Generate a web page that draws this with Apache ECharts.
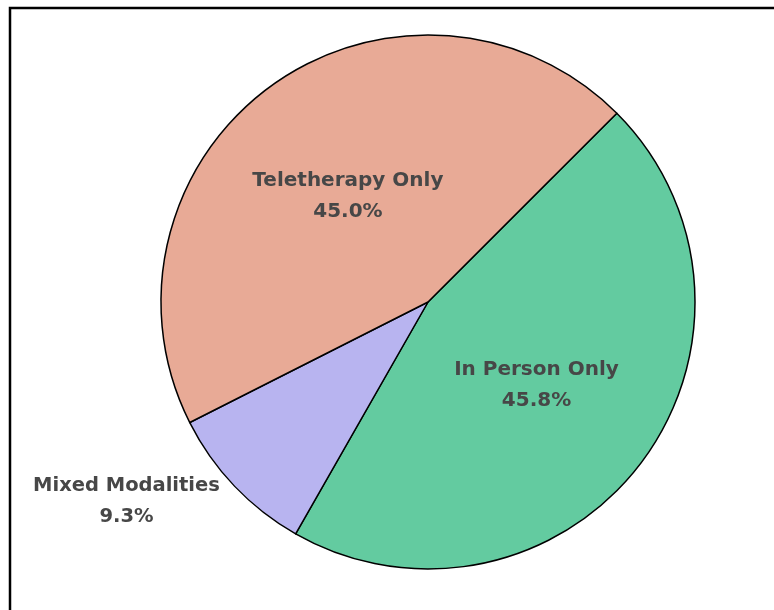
<!DOCTYPE html>
<html><head><meta charset="utf-8">
<script src="https://cdn.jsdelivr.net/npm/echarts@6/dist/echarts.min.js"></script>
<style>html,body{margin:0;padding:0;background:#fff;}#c{width:774px;height:610px;}</style>
</head><body><div id="c"></div>
<script>
const categories = ['In Person Only', 'Mixed Modalities', 'Teletherapy Only'];
const values = [45.8, 9.3, 45.0];
const colors = ['#63CBA0', '#B8B4F0', '#E8AA96'];

const chart = echarts.init(document.getElementById('c'), null, {renderer: 'canvas'});
const textColor = '#474747';
const font = 'DejaVu Sans';
const data = categories.map((name, i) => {
  const d = {name: name, value: values[i], itemStyle: {color: colors[i]}};
  if (name === 'Mixed Modalities') {
    d.label = {
      position: 'outside',
      distanceToLabelLine: 0,
      padding: [6, 0, 0, 0],
      formatter: p => '{a|' + p.name + '}\n{a|' + p.value.toFixed(1) + '%}',
      rich: {a: {width: 190, align: 'center', fontSize: 19.5, fontWeight: 'bold', fontFamily: font, color: textColor, lineHeight: 31}}
    };
    d.labelLine = {show: false, length: 18, length2: 0};
  }
  if (name === 'Teletherapy Only') {
    d.label = {offset: [0, 5]};
  }
  return d;
});
chart.setOption({
  animation: false,
  backgroundColor: '#fff',
  graphic: [{type: 'rect', shape: {x: 10, y: 8, width: 900, height: 900}, style: {fill: 'none', stroke: '#000', lineWidth: 2.5}}],
  series: [{
    type: 'pie',
    center: [428, 302],
    radius: [0, 267],
    startAngle: 45,
    clockwise: true,
    data: data,
    itemStyle: {borderColor: '#000', borderWidth: 1.5},
    label: {
      position: 'inside',
      formatter: p => p.name + '\n' + p.value.toFixed(1) + '%',
      fontFamily: font, fontSize: 20, fontWeight: 'bold', color: textColor, lineHeight: 31, align: 'center'
    },
    labelLine: {show: false},
    emphasis: {disabled: true}
  }]
});
</script></body></html>
